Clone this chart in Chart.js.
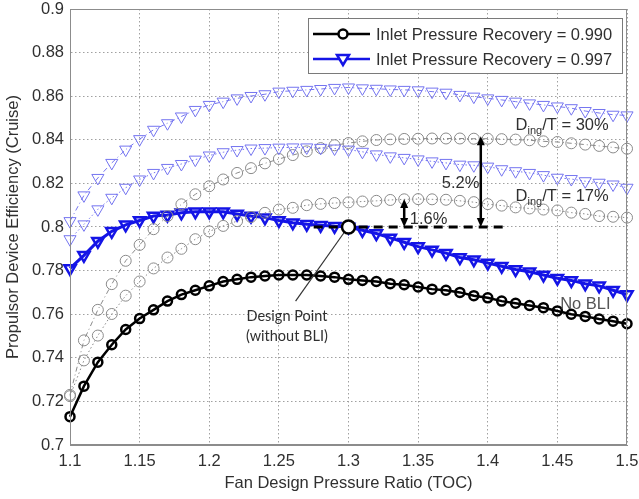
<!DOCTYPE html>
<html>
<head>
<meta charset="utf-8">
<script src="https://cdn.jsdelivr.net/npm/chart.js@4.4.0/dist/chart.umd.min.js"></script>
<style>
  html, body { margin: 0; padding: 0; background: #fff; }
  #wrap { width: 639px; height: 499px; }
</style>
</head>
<body>
<div id="wrap"><canvas id="chart" width="639" height="499"></canvas></div>
<script>
// Fan design pressure ratio (TOC)
const fanPressureRatio = [
    1.10, 1.11, 1.12, 1.13, 1.14, 1.15, 1.16, 1.17, 1.18, 1.19,
    1.20, 1.21, 1.22, 1.23, 1.24, 1.25, 1.26, 1.27, 1.28, 1.29,
    1.30, 1.31, 1.32, 1.33, 1.34, 1.35, 1.36, 1.37, 1.38, 1.39,
    1.40, 1.41, 1.42, 1.43, 1.44, 1.45, 1.46, 1.47, 1.48, 1.49,
    1.50
];

// Inlet pressure recovery 0.990, no BLI
const noBli990 = [
    0.713, 0.727, 0.738, 0.746, 0.753, 0.758, 0.762, 0.766, 0.769, 0.771,
    0.773, 0.775, 0.776, 0.777, 0.7775, 0.778, 0.778, 0.778, 0.7775, 0.777,
    0.776, 0.7755, 0.775, 0.774, 0.7735, 0.7725, 0.7715, 0.771, 0.770, 0.7685,
    0.7675, 0.766, 0.765, 0.764, 0.763, 0.7615, 0.760, 0.759, 0.7578, 0.7568,
    0.7556
];

// Inlet pressure recovery 0.997, no BLI
const noBli997 = [
    0.781, 0.787, 0.7935, 0.798, 0.801, 0.803, 0.805, 0.8055, 0.8065, 0.807,
    0.807, 0.807, 0.806, 0.805, 0.8043, 0.803, 0.802, 0.8013, 0.8008, 0.8003,
    0.800, 0.7985, 0.797, 0.795, 0.793, 0.791, 0.7895, 0.788, 0.786, 0.785,
    0.7835, 0.782, 0.7805, 0.7795, 0.778, 0.7765, 0.7755, 0.774, 0.773, 0.771,
    0.769
];

// 0.990 with D_ing/T = 17%
const bli17of990 = [
    0.7224, 0.7388, 0.7502, 0.7601, 0.7685, 0.775, 0.781, 0.786, 0.790, 0.7944,
    0.798, 0.8005, 0.8027, 0.8046, 0.8065, 0.808, 0.8088, 0.810, 0.8106, 0.811,
    0.8113, 0.8117, 0.812, 0.8124, 0.8127, 0.8128, 0.8127, 0.8125, 0.812, 0.8114,
    0.8105, 0.8098, 0.809, 0.8085, 0.808, 0.8076, 0.8066, 0.806, 0.805, 0.8047,
    0.8043
];

// 0.990 with D_ing/T = 30%
const bli30of990 = [
    0.723, 0.748, 0.762, 0.7738, 0.7845, 0.7918, 0.799, 0.805, 0.8104, 0.815,
    0.8187, 0.8218, 0.8248, 0.827, 0.8292, 0.8312, 0.833, 0.8347, 0.8362, 0.8375,
    0.8385, 0.8393, 0.8399, 0.8402, 0.8404, 0.8405, 0.8406, 0.8406, 0.8406, 0.8405,
    0.8405, 0.8403, 0.8401, 0.8398, 0.8393, 0.839, 0.8384, 0.8378, 0.8372, 0.8365,
    0.8359
];

// 0.997 with D_ing/T = 17%
const bli17of997 = [
    0.7944, 0.8012, 0.8081, 0.8134, 0.818, 0.8218, 0.8248, 0.8271, 0.8289, 0.8309,
    0.8328, 0.8343, 0.8353, 0.836, 0.8362, 0.8364, 0.8365, 0.8365, 0.8363, 0.836,
    0.8355, 0.8345, 0.8333, 0.8324, 0.8317, 0.831, 0.8301, 0.8294, 0.8286, 0.8283,
    0.8277, 0.8265, 0.8256, 0.8248, 0.8238, 0.8226, 0.822, 0.821, 0.8203, 0.8195,
    0.818
];

// 0.997 with D_ing/T = 30%
const bli30of997 = [
    0.8027, 0.8145, 0.8225, 0.8294, 0.8355, 0.8403, 0.8446, 0.8476, 0.8507, 0.8537,
    0.856, 0.8575, 0.859, 0.8601, 0.8609, 0.8621, 0.8625, 0.8629, 0.8633, 0.8638,
    0.864, 0.8636, 0.8634, 0.8631, 0.8629, 0.8627, 0.8621, 0.8616, 0.8606, 0.8598,
    0.859, 0.8583, 0.8575, 0.8567, 0.856, 0.8553, 0.8545, 0.8532, 0.8523, 0.8515,
    0.8512
];

const xTicks = [1.1, 1.15, 1.2, 1.25, 1.3, 1.35, 1.4, 1.45, 1.5];
const xTickLabels = ['1.1', '1.15', '1.2', '1.25', '1.3', '1.35', '1.4', '1.45', '1.5'];
const yTicks = [0.7, 0.72, 0.74, 0.76, 0.78, 0.8, 0.82, 0.84, 0.86, 0.88, 0.9];
const yTickLabels = ['0.7', '0.72', '0.74', '0.76', '0.78', '0.8', '0.82', '0.84', '0.86', '0.88', '0.9'];

const legendLabels = ['Inlet Pressure Recovery = 0.990', 'Inlet Pressure Recovery = 0.997'];

// annotation values (data units)
const designPoint = { x: 1.30, y: 0.800 };
const baselineSpan = [1.275, 1.415];
const gainArrows = [
    { x: 1.34, from: 0.800, to: 0.8128, label: '1.6%', lx: 1.344, ly: 0.8014 },
    { x: 1.395, from: 0.800, to: 0.8416, label: '5.2%', lx: 1.367, ly: 0.8178 }
];

const FONT = "'Liberation Sans', Arial, sans-serif";
const TEXT = '#303030';
const BLACK = '#000000';
const BLUE = '#1414e6';
const GRAY = '#8a8a8a';
const LIGHT_BLUE = '#7474f0';

function points(values) {
    return values.map((v, i) => ({ x: fanPressureRatio[i], y: v }));
}

function drawArrowHead(ctx, x, y, dir) {
    ctx.beginPath();
    ctx.moveTo(x, y);
    ctx.lineTo(x - 4, y - dir * 9);
    ctx.lineTo(x + 4, y - dir * 9);
    ctx.closePath();
    ctx.fill();
}

function drawDingText(ctx, x, y, tail) {
    ctx.textAlign = 'left';
    ctx.textBaseline = 'alphabetic';
    ctx.font = '16.5px ' + FONT;
    ctx.fillText('D', x, y);
    let w = ctx.measureText('D').width;
    ctx.font = '11px ' + FONT;
    ctx.fillText('ing', x + w, y + 4);
    w += ctx.measureText('ing').width;
    ctx.font = '16.5px ' + FONT;
    ctx.fillText(tail, x + w, y);
}

// keep the plot box where the reference has it
function fixScale(scale, size) {
    if (scale.isHorizontal()) {
        scale.height = size;
    } else {
        scale.width = size;
    }
    scale.paddingTop = 0;
    scale.paddingBottom = 0;
    scale.paddingLeft = 0;
    scale.paddingRight = 0;
}

const overlayPlugin = {
    id: 'overlay',
    afterDatasetsDraw(chart) {
        const { ctx, chartArea: a, scales: { x, y } } = chart;
        ctx.save();

        // plot frame
        ctx.strokeStyle = '#8c8c8c';
        ctx.lineWidth = 1;
        ctx.strokeRect(a.left + 0.5, a.top + 0.5, a.right - a.left - 1, a.bottom - a.top - 1);

        // dashed baseline through design point
        ctx.strokeStyle = BLACK;
        ctx.lineWidth = 3;
        ctx.setLineDash([9, 6]);
        ctx.beginPath();
        ctx.moveTo(x.getPixelForValue(baselineSpan[0]), y.getPixelForValue(designPoint.y));
        ctx.lineTo(x.getPixelForValue(baselineSpan[1]), y.getPixelForValue(designPoint.y));
        ctx.stroke();
        ctx.setLineDash([]);

        // gain arrows
        ctx.fillStyle = BLACK;
        ctx.lineWidth = 2.5;
        gainArrows.forEach(g => {
            const px = x.getPixelForValue(g.x);
            const p0 = y.getPixelForValue(g.from);
            const p1 = y.getPixelForValue(g.to);
            ctx.beginPath();
            ctx.moveTo(px, p0 - 6);
            ctx.lineTo(px, p1 + 6);
            ctx.stroke();
            drawArrowHead(ctx, px, p1, -1);
            drawArrowHead(ctx, px, p0, 1);
        });

        // leader line to design point label
        const dpx = x.getPixelForValue(designPoint.x);
        const dpy = y.getPixelForValue(designPoint.y);
        ctx.strokeStyle = '#333';
        ctx.lineWidth = 1.2;
        ctx.beginPath();
        ctx.moveTo(dpx - 4, dpy + 5);
        ctx.lineTo(x.getPixelForValue(1.262), y.getPixelForValue(0.766));
        ctx.stroke();

        // design point marker
        ctx.fillStyle = '#fff';
        ctx.strokeStyle = BLACK;
        ctx.lineWidth = 2.5;
        ctx.beginPath();
        ctx.arc(dpx, dpy, 6.5, 0, Math.PI * 2);
        ctx.fill();
        ctx.stroke();

        // texts
        ctx.fillStyle = TEXT;
        drawDingText(ctx, x.getPixelForValue(1.42), y.getPixelForValue(0.8443), '/T = 30%');
        drawDingText(ctx, x.getPixelForValue(1.42), y.getPixelForValue(0.8119), '/T = 17%');
        ctx.font = '16.5px ' + FONT;
        ctx.textAlign = 'left';
        gainArrows.forEach(g => {
            ctx.fillText(g.label, x.getPixelForValue(g.lx), y.getPixelForValue(g.ly));
        });
        ctx.fillStyle = '#555';
        ctx.fillText('No BLI', x.getPixelForValue(1.452), y.getPixelForValue(0.7626));

        ctx.fillStyle = TEXT;
        ctx.font = "14.5px Lato, 'Open Sans', sans-serif";
        ctx.textAlign = 'center';
        ctx.textBaseline = 'middle';
        ctx.fillText('Design Point', x.getPixelForValue(1.2558), y.getPixelForValue(0.7589));
        ctx.fillText('(without BLI)', x.getPixelForValue(1.2558), y.getPixelForValue(0.7498));

        ctx.restore();
    },
    afterDraw(chart) {
        // legend box
        const { ctx, chartArea: a } = chart;
        const left = a.right - 319, top = a.top + 9, w = 314, h = 55;
        ctx.save();
        ctx.fillStyle = '#fff';
        ctx.fillRect(left, top, w, h);
        ctx.strokeStyle = '#7a7a7a';
        ctx.lineWidth = 1;
        ctx.strokeRect(left + 0.5, top + 0.5, w, h);

        const rows = [
            { color: BLACK, shape: 'circle', rowY: top + 16 },
            { color: BLUE, shape: 'triangle', rowY: top + 41 }
        ];
        rows.forEach((r, i) => {
            ctx.strokeStyle = r.color;
            ctx.lineWidth = 2.5;
            ctx.beginPath();
            ctx.moveTo(left + 5, r.rowY);
            ctx.lineTo(left + 62, r.rowY);
            ctx.stroke();
            const mx = left + 35;
            ctx.fillStyle = '#fff';
            ctx.beginPath();
            if (r.shape === 'circle') {
                ctx.arc(mx, r.rowY, 4.5, 0, Math.PI * 2);
            } else {
                ctx.moveTo(mx - 6, r.rowY - 4);
                ctx.lineTo(mx + 6, r.rowY - 4);
                ctx.lineTo(mx, r.rowY + 6);
                ctx.closePath();
            }
            ctx.fill();
            ctx.stroke();
            ctx.fillStyle = TEXT;
            ctx.font = '16.5px ' + FONT;
            ctx.textAlign = 'left';
            ctx.textBaseline = 'middle';
            ctx.fillText(legendLabels[i], left + 68, r.rowY + 1);
        });
        ctx.restore();
    }
};

function lineSeries(values, opts) {
    return Object.assign({
        data: points(values),
        showLine: true,
        tension: 0,
        clip: false,
        pointBackgroundColor: 'rgba(255,255,255,0)'
    }, opts);
}

new Chart(document.getElementById('chart').getContext('2d'), {
    type: 'line',
    data: {
        datasets: [
            lineSeries(bli30of997, {
                borderColor: LIGHT_BLUE, borderWidth: 1, borderDash: [5, 3, 1, 3],
                pointStyle: 'triangle', pointRotation: 180, pointRadius: 7,
                pointBorderColor: LIGHT_BLUE, pointBorderWidth: 1
            }),
            lineSeries(bli17of997, {
                borderColor: LIGHT_BLUE, borderWidth: 1, borderDash: [1.5, 2.5],
                pointStyle: 'triangle', pointRotation: 180, pointRadius: 7,
                pointBorderColor: LIGHT_BLUE, pointBorderWidth: 1
            }),
            lineSeries(bli30of990, {
                borderColor: GRAY, borderWidth: 1, borderDash: [5, 3, 1, 3],
                pointStyle: 'circle', pointRadius: 5.5,
                pointBorderColor: GRAY, pointBorderWidth: 1
            }),
            lineSeries(bli17of990, {
                borderColor: GRAY, borderWidth: 1, borderDash: [1.5, 2.5],
                pointStyle: 'circle', pointRadius: 5.5,
                pointBorderColor: GRAY, pointBorderWidth: 1
            }),
            lineSeries(noBli997, {
                borderColor: BLUE, borderWidth: 3,
                pointStyle: 'triangle', pointRotation: 180, pointRadius: 6.5,
                pointBorderColor: BLUE, pointBorderWidth: 2.5
            }),
            lineSeries(noBli990, {
                borderColor: BLACK, borderWidth: 2.5,
                pointStyle: 'circle', pointRadius: 4.5,
                pointBorderColor: BLACK, pointBorderWidth: 2.5
            })
        ]
    },
    options: {
        responsive: false,
        animation: false,
        layout: { padding: { top: 7, right: 12, left: 0, bottom: 0 } },
        plugins: {
            legend: { display: false },
            tooltip: { enabled: false }
        },
        scales: {
            x: {
                type: 'linear',
                min: 1.1,
                max: 1.5,
                afterBuildTicks: scale => { scale.ticks = xTicks.map(v => ({ value: v })); },
                afterFit: scale => fixScale(scale, 54),
                ticks: {
                    autoSkip: false,
                    maxRotation: 0,
                    padding: 7,
                    color: TEXT,
                    font: { family: FONT, size: 16.5 },
                    callback: (value, index) => xTickLabels[index]
                },
                grid: { color: '#a0a0a0', lineWidth: 1, drawTicks: false },
                border: { display: true, color: '#8c8c8c', dash: [1.5, 2.5] },
                title: {
                    display: true,
                    text: 'Fan Design Pressure Ratio (TOC)',
                    color: TEXT,
                    font: { family: FONT, size: 16.5 },
                    padding: { top: 0, bottom: 6 }
                }
            },
            y: {
                type: 'linear',
                min: 0.7,
                max: 0.9,
                afterBuildTicks: scale => { scale.ticks = yTicks.map(v => ({ value: v })); },
                afterFit: scale => fixScale(scale, 70),
                ticks: {
                    autoSkip: false,
                    padding: 6,
                    color: TEXT,
                    font: { family: FONT, size: 16.5 },
                    callback: (value, index) => yTickLabels[index]
                },
                grid: { color: '#a0a0a0', lineWidth: 1, drawTicks: false },
                border: { display: true, color: '#8c8c8c', dash: [1.5, 2.5] },
                title: {
                    display: true,
                    text: 'Propulsor Device Efficiency (Cruise)',
                    color: TEXT,
                    font: { family: FONT, size: 16.5 },
                    padding: { top: 4, bottom: 0 }
                }
            }
        }
    },
    plugins: [overlayPlugin]
});
</script>
</body>
</html>
